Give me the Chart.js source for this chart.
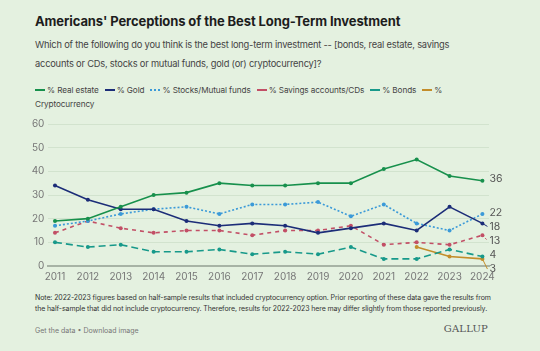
<!DOCTYPE html>
<html>
<head>
<meta charset="utf-8">
<script src="https://cdn.jsdelivr.net/npm/chart.js@4"></script>
<style>
  html, body { margin: 0; padding: 0; }
  body { width: 540px; height: 351px; background: #e4f1e0; font-family: Inter, "Noto Sans", sans-serif; position: relative; overflow: hidden; color: #222; }
  #title { position: absolute; left: 35px; top: 13px; font-size: 13px; font-weight: 700; color: #1d1d1d; letter-spacing: -0.1px; }
  #sub { position: absolute; left: 35px; top: 36px; width: 440px; font-size: 9.3px; line-height: 18.5px; color: #444; letter-spacing: -0.2px; }
  #legend { position: absolute; left: 35px; top: 84px; width: 460px; font-size: 8.2px; line-height: 13.5px; color: #444; letter-spacing: -0.1px; }
  #legend .it { margin-right: 6px; white-space: nowrap; }
  #legend .sw { display: inline-block; width: 10px; height: 0; vertical-align: middle; margin-right: 2px; position: relative; top: -1px; }
  #wrap { position: absolute; left: 0; top: 112px; width: 540px; height: 175px; }
  #note { position: absolute; left: 35px; top: 293px; width: 468px; font-size: 7px; line-height: 10.7px; color: #333; letter-spacing: -0.1px; }
  #foot { position: absolute; left: 35px; top: 326px; font-size: 7px; color: #777; }
  #brand { position: absolute; right: 52px; top: 323px; font-family: "DejaVu Serif", "Liberation Serif", serif; font-size: 10px; color: #555; letter-spacing: 0.2px; }
</style>
</head>
<body>
<div id="title">Americans' Perceptions of the Best Long-Term Investment</div>
<div id="sub">Which of the following do you think is the best long-term investment -- [bonds, real estate, savings accounts or CDs, stocks or mutual funds, gold (or) cryptocurrency]?</div>
<div id="legend"></div>
<div id="wrap"><canvas id="chart"></canvas></div>
<div id="note">Note: 2022-2023 figures based on half-sample results that included cryptocurrency option. Prior reporting of these data gave the results from<br>the half-sample that did not include cryptocurrency. Therefore, results for 2022-2023 here may differ slightly from those reported previously.</div>
<div id="foot">Get the data • Download image</div>
<div id="brand">GALLUP</div>

<script>
const years = [2011, 2012, 2013, 2014, 2015, 2016, 2017, 2018, 2019, 2020, 2021, 2022, 2023, 2024];
const yTicks = [0, 10, 20, 30, 40, 50, 60];

const realEstate = [19, 20, 25, 30, 31, 35, 34, 34, 35, 35, 41, 45, 38, 36];
const gold = [34, 28, 24, 24, 19, 17, 18, 17, 14, 16, 18, 15, 25, 18];
const stocks = [17, 19, 22, 24, 25, 22, 26, 26, 27, 21, 26, 18, 15, 22];
const savings = [14, 19, 16, 14, 15, 15, 13, 15, 15, 17, 9, 10, 9, 13];
const bonds = [10, 8, 9, 6, 6, 7, 5, 6, 5, 8, 3, 3, 7, 4];
const crypto = [null, null, null, null, null, null, null, null, null, null, null, 8, 4, 3];

const series = [
  { label: '% Real estate', data: realEstate, color: '#17904c', dash: [] },
  { label: '% Gold', data: gold, color: '#1c2d78', dash: [] },
  { label: '% Stocks/Mutual funds', data: stocks, color: '#3b9ad8', dash: [2, 2] },
  { label: '% Savings accounts/CDs', data: savings, color: '#c24f66', dash: [4, 4] },
  { label: '% Bonds', data: bonds, color: '#17998a', dash: [7, 4] },
  { label: '% Cryptocurrency', data: crypto, color: '#c38d2a', dash: [] }
];

// html legend
const legend = document.getElementById('legend');
legend.innerHTML = series.map((s, i) => {
  const style = s.dash.length
    ? `border-top:2px ${s.dash[0] <= 2 ? 'dotted' : 'dashed'} ${s.color}`
    : `border-top:2px solid ${s.color}`;
  let text = s.label;
  if (i === series.length - 1) text = '%</span><br><span>Cryptocurrency';
  return `<span class="it"><span class="sw" style="${style}"></span><span>${text}</span></span>`;
}).join('');

const endLabels = {
  id: 'endLabels',
  afterDatasetsDraw(chart) {
    const c = chart.ctx;
    const xs = chart.scales.x, ys = chart.scales.y;
    const items = [];
    chart.data.datasets.forEach(ds => {
      const v = ds.data[ds.data.length - 1].y;
      items.push({ v, py: ys.getPixelForValue(v), color: ds.borderColor, dash: ds.borderDash });
    });
    items.sort((a, b) => a.py - b.py);
    let prev = -100;
    items.forEach(it => {
      it.ly = Math.max(it.py - 1.5, prev + 14);
      prev = it.ly;
    });
    const px = xs.getPixelForValue(years[years.length - 1]);
    c.save();
    c.font = '10.5px Inter, "Noto Sans", sans-serif';
    c.textBaseline = 'middle';
    items.forEach(it => {
      if (Math.abs(it.ly - it.py) > 3) {
        c.strokeStyle = it.color;
        c.lineWidth = 1;
        c.setLineDash(it.dash && it.dash.length ? [2, 2] : []);
        c.beginPath();
        c.moveTo(px, it.py);
        c.lineTo(px + 5, it.ly);
        c.stroke();
      }
      c.fillStyle = '#555';
      c.fillText(String(it.v), px + 7, it.ly);
    });
    c.restore();
  }
};

const ctx = document.getElementById('chart').getContext('2d');
new Chart(ctx, {
  type: 'line',
  data: {
    datasets: series.map(s => ({
      label: s.label,
      data: years.map((y, i) => ({ x: y, y: s.data[i] })),
      borderColor: s.color,
      backgroundColor: s.color,
      borderDash: s.dash,
      borderWidth: 1.6,
      pointRadius: 2,
      pointHoverRadius: 2,
      pointBorderWidth: 0,
      spanGaps: false,
      tension: 0
    }))
  },
  options: {
    animation: false,
    responsive: true,
    maintainAspectRatio: false,
    layout: { padding: { left: 0, right: 51, top: 12, bottom: 1 } },
    plugins: { legend: { display: false }, tooltip: { enabled: false } },
    scales: {
      x: {
        type: 'linear',
        min: 2010.8,
        max: 2024.2,
        afterBuildTicks: s => { s.ticks = years.map(v => ({ value: v })); },
        afterFit: s => { s.height = 20; },
        grid: { display: false, drawTicks: false },
        border: { display: true, color: '#a7b3a5', width: 2 },
        ticks: {
          padding: 5,
          maxRotation: 0,
          autoSkip: false,
          color: '#777',
          font: { family: 'Inter, "Noto Sans", sans-serif', size: 10 },
          callback: v => String(v)
        }
      },
      y: {
        min: 0,
        max: 60,
        afterBuildTicks: s => { s.ticks = yTicks.map(v => ({ value: v })); },
        afterFit: s => { s.width = 48.4; },
        grid: { color: '#d2e3ce', lineWidth: 1, drawTicks: false },
        border: { display: false },
        ticks: {
          padding: 4,
          color: '#777',
          font: { family: 'Inter, "Noto Sans", sans-serif', size: 10 }
        }
      }
    }
  },
  plugins: [endLabels]
});
</script>
</body>
</html>
